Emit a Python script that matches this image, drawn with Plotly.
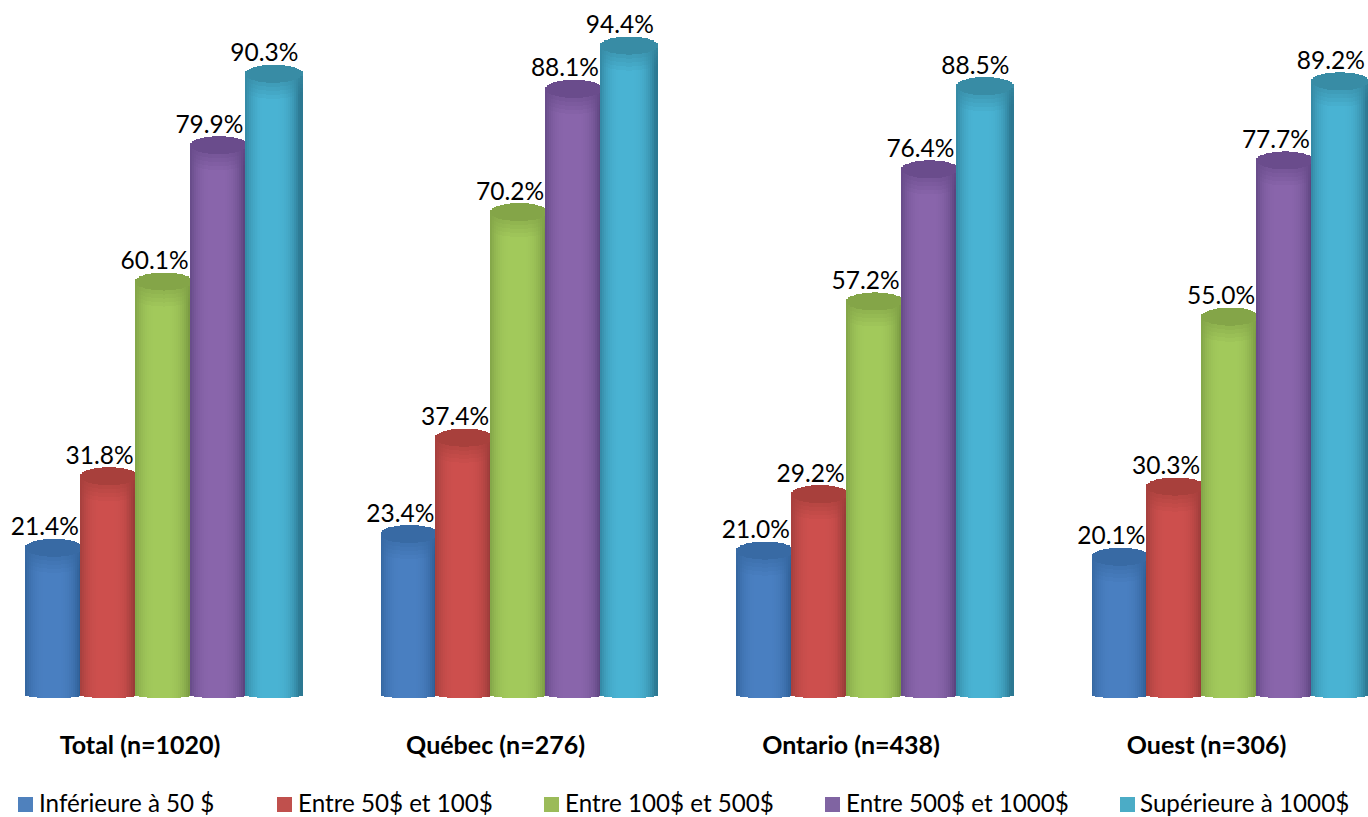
import numpy as np
import plotly.graph_objects as go

# Survey results by region and amount bracket
regions = ["Total (n=1020)", "Québec (n=276)", "Ontario (n=438)", "Ouest (n=306)"]
series_names = ["Inférieure à 50 $", "Entre 50$ et 100$", "Entre 100$ et 500$",
                "Entre 500$ et 1000$", "Supérieure à 1000$"]
under_50 = [21.4, 23.4, 21.0, 20.1]
from_50_to_100 = [31.8, 37.4, 29.2, 30.3]
from_100_to_500 = [60.1, 70.2, 57.2, 55.0]
from_500_to_1000 = [79.9, 88.1, 76.4, 77.7]
over_1000 = [90.3, 94.4, 88.5, 89.2]
series_values = [under_50, from_50_to_100, from_100_to_500, from_500_to_1000, over_1000]

legend_colors = ["#4F81BD", "#C0504D", "#9BBB59", "#8064A2", "#4BACC6"]
mid_colors = [(74, 128, 194), (206, 80, 78), (163, 202, 92), (138, 102, 172), (74, 180, 212)]
edge_colors = [(44, 92, 146), (150, 58, 56), (120, 152, 66), (90, 66, 124), (44, 120, 146)]
cap_colors = [(56, 106, 164), (168, 64, 60), (132, 165, 72), (106, 76, 140), (56, 140, 165)]

W, H = 1368, 817
GROUP_PX = 355.5      # pixels between neighbouring groups
BAR_STEP_PX = 54.9    # pixels between neighbouring cylinders
BAR_WIDTH_PX = 57.5
FIRST_LEFT_PX = 25.0
BASE_PX = 695.0       # pixel row of value zero
AXIS_PX = 701.0       # bottom edge of the plotting area
UNIT_PX = 6.88        # pixels per percentage point
CAP_RY_PX = 9.0
BOTTOM_RY_PX = 3.0
STRIP_PX = 2.0
SHOULDER_BANDS = 4    # darker bands fading out below the top rim
SHOULDER_BAND_PX = 4.0

group0_px = FIRST_LEFT_PX + 2 * BAR_STEP_PX + BAR_WIDTH_PX / 2
x_min = -group0_px / GROUP_PX
x_max = x_min + W / GROUP_PX
y_low = -(AXIS_PX - BASE_PX) / UNIT_PX
y_high = BASE_PX / UNIT_PX


def shade(mid, edge, u):
    # Cylinder shading: bright across the middle, darker towards both sides
    t = min(abs(u + 0.08) ** 3.2, 1.0)
    return [m + (e - m) * t for m, e in zip(mid, edge)]


def rgb(c):
    return "rgb(%d,%d,%d)" % tuple(c)


fig = go.Figure()
n_strips = int(round(BAR_WIDTH_PX / STRIP_PX))
strip_units = (BAR_WIDTH_PX / n_strips) / GROUP_PX
overlap_units = 0.6 / GROUP_PX
band_units = SHOULDER_BAND_PX / UNIT_PX

for s, (name, values) in enumerate(zip(series_names, series_values)):
    rects = dict(x=[], y=[], base=[], width=[], offset=[], color=[])

    def add_rect(g, off, bottom, top, color):
        rects["x"].append(g)
        rects["base"].append(bottom)
        rects["y"].append(top - bottom)
        rects["width"].append(strip_units + overlap_units)
        rects["offset"].append(off)
        rects["color"].append(color)

    left = (s - 2) * BAR_STEP_PX / GROUP_PX - (BAR_WIDTH_PX / 2) / GROUP_PX
    for g, v in enumerate(values):
        for k in range(n_strips):
            u = (k + 0.5) / n_strips * 2 - 1
            arc = np.sqrt(1 - u * u)
            front = CAP_RY_PX * arc / UNIT_PX
            low = -BOTTOM_RY_PX * arc / UNIT_PX
            off = left + k * strip_units
            wall = shade(mid_colors[s], edge_colors[s], u)
            rim = v - front
            wall_top = rim - SHOULDER_BANDS * band_units
            # Cylinder wall up to the shaded shoulder
            add_rect(g, off, low, wall_top, rgb(wall))
            # Shoulder bands blending from the wall colour into the cap colour
            for b in range(SHOULDER_BANDS):
                f = (b + 1) / (SHOULDER_BANDS + 1) * 0.7
                band = [w + (c - w) * f for w, c in zip(wall, cap_colors[s])]
                add_rect(g, off, wall_top + b * band_units,
                         wall_top + (b + 1) * band_units, rgb(band))
            # Top ellipse
            add_rect(g, off, rim, v + front, rgb(cap_colors[s]))

    fig.add_bar(x=rects["x"], y=rects["y"], base=rects["base"], width=rects["width"],
                offset=rects["offset"], name=name, showlegend=False, hoverinfo="skip",
                marker=dict(color=rects["color"], line=dict(width=0)))

# Percentage labels above each cylinder, set slightly left of its centre
LABEL_SHIFT_PX = -9.0
LABEL_RISE_PX = 18.5
for s, values in enumerate(series_values):
    centre = ((s - 2) * BAR_STEP_PX + LABEL_SHIFT_PX) / GROUP_PX
    fig.add_scatter(x=[g + centre for g in range(len(values))],
                    y=[v + LABEL_RISE_PX / UNIT_PX for v in values],
                    mode="text", text=[f"{v:.1f}%" for v in values],
                    textposition="middle center", showlegend=False, hoverinfo="skip",
                    textfont=dict(family="Lato", size=24.5, color="#000000"))

# Legend row: coloured squares with their captions
square_left_px = [18, 277, 544, 825, 1120]
text_left_px = [37, 296, 563, 844, 1138]
shapes, annotations = [], []
for name, color, sq, tx in zip(series_names, legend_colors, square_left_px, text_left_px):
    shapes.append(dict(type="rect", xref="paper", yref="paper",
                       x0=sq / W, x1=(sq + 15) / W,
                       y0=1 - 812 / H, y1=1 - 797 / H,
                       fillcolor=color, line=dict(width=0)))
    annotations.append(dict(xref="paper", yref="paper", x=tx / W, y=1 - 802 / H,
                            xanchor="left", yanchor="middle", showarrow=False, text=name,
                            font=dict(family="Lato", size=24.2, color="#000000")))

label_shift = -23.5 / GROUP_PX
fig.update_layout(
    width=W, height=H, margin=dict(l=0, r=0, t=0, b=0),
    paper_bgcolor="white", plot_bgcolor="white",
    barmode="overlay", bargap=0, showlegend=False,
    shapes=shapes, annotations=annotations,
    xaxis=dict(range=[x_min, x_max], showgrid=False, zeroline=False, showline=False,
               ticks="", tickmode="array",
               tickvals=[g + label_shift for g in range(len(regions))], ticktext=regions,
               tickfont=dict(family="Lato", size=25, color="#000000", weight="bold"),
               ticklabelstandoff=27),
    yaxis=dict(range=[y_low, y_high], domain=[1 - AXIS_PX / H, 1], visible=False),
)

fig.write_html("out.html")
